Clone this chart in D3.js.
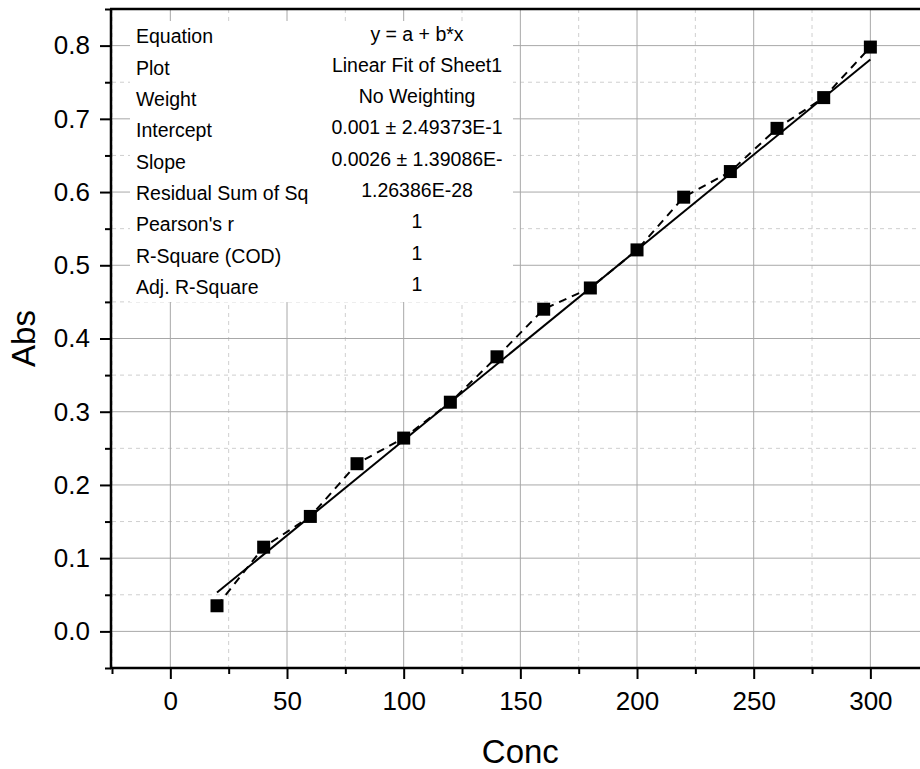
<!DOCTYPE html>
<html>
<head>
<meta charset="utf-8">
<script src="https://cdn.jsdelivr.net/npm/d3@7"></script>
<style>
  html, body { margin: 0; padding: 0; background: #fff; }
  svg { display: block; font-family: "Liberation Sans", Arial, sans-serif; }
</style>
</head>
<body>
<svg id="chart" width="920" height="769"></svg>
<script>
// Calibration data: concentration vs absorbance
const conc = [20, 40, 60, 80, 100, 120, 140, 160, 180, 200, 220, 240, 260, 280, 300];
const abs  = [0.035, 0.115, 0.157, 0.229, 0.264, 0.313, 0.375, 0.440, 0.469, 0.521, 0.593, 0.628, 0.687, 0.729, 0.798];

// Linear fit parameters (y = a + b*x)
const fitIntercept = 0.001;
const fitSlope = 0.0026;

// Axis ticks
const xMajorTicks = [0, 50, 100, 150, 200, 250, 300];
const xMinorTicks = [-25, 25, 75, 125, 175, 225, 275, 325];
const yMajorTicks = [0.0, 0.1, 0.2, 0.3, 0.4, 0.5, 0.6, 0.7, 0.8];
const yMinorTicks = [-0.05, 0.05, 0.15, 0.25, 0.35, 0.45, 0.55, 0.65, 0.75, 0.85];

// Fit report table
const tableLabels = ["Equation", "Plot", "Weight", "Intercept", "Slope",
  "Residual Sum of Sq", "Pearson's r", "R-Square (COD)", "Adj. R-Square"];
const tableValues = ["y = a + b*x", "Linear Fit of Sheet1", "No Weighting",
  "0.001 \u00B1 2.49373E-1", "0.0026 \u00B1 1.39086E-", "1.26386E-28", "1", "1", "1"];

const svg = d3.select("#chart");
const plotLeft = 112, plotRight = 928.7, plotTop = 9, plotBottom = 668;

const x = d3.scaleLinear().domain([-25, 325]).range([plotLeft, plotRight]);
const y = d3.scaleLinear().domain([-0.05, 0.85]).range([plotBottom, plotTop]);

// Grid: dashed minor lines, solid major lines
const grid = svg.append("g");
grid.selectAll(".xminor").data(xMinorTicks).join("line")
  .attr("x1", d => x(d)).attr("x2", d => x(d)).attr("y1", plotTop).attr("y2", plotBottom)
  .attr("stroke", "#cfcfcf").attr("stroke-width", 1).attr("stroke-dasharray", "4,4");
grid.selectAll(".yminor").data(yMinorTicks).join("line")
  .attr("x1", plotLeft).attr("x2", plotRight).attr("y1", d => y(d)).attr("y2", d => y(d))
  .attr("stroke", "#cfcfcf").attr("stroke-width", 1).attr("stroke-dasharray", "4,4");
grid.selectAll(".xmajor").data(xMajorTicks).join("line")
  .attr("x1", d => x(d)).attr("x2", d => x(d)).attr("y1", plotTop).attr("y2", plotBottom)
  .attr("stroke", "#a8a8a8").attr("stroke-width", 1);
grid.selectAll(".ymajor").data(yMajorTicks).join("line")
  .attr("x1", plotLeft).attr("x2", plotRight).attr("y1", d => y(d)).attr("y2", d => y(d))
  .attr("stroke", "#a8a8a8").attr("stroke-width", 1);

// Fit report table with white background
const table = svg.append("g");
table.append("rect").attr("x", 130).attr("y", 21).attr("width", 383).attr("height", 281)
  .attr("fill", "#fff");
const rowH = 31.33;
table.selectAll(".lab").data(tableLabels).join("text")
  .attr("x", 136).attr("y", (d, i) => 43.3 + i * rowH)
  .attr("font-size", 19.5).attr("fill", "#000").text(d => d);
table.selectAll(".val").data(tableValues).join("text")
  .attr("x", 417).attr("y", (d, i) => 40.5 + i * rowH)
  .attr("text-anchor", "middle")
  .attr("font-size", 19.5).attr("fill", "#000").text(d => d);

// Dashed line through the data points
const line = d3.line().x(d => x(d[0])).y(d => y(d[1]));
const pts = conc.map((c, i) => [c, abs[i]]);
svg.append("path").datum(pts).attr("d", line)
  .attr("fill", "none").attr("stroke", "#000").attr("stroke-width", 2)
  .attr("stroke-dasharray", "8,6");

// Linear fit line
const fitPts = [conc[0], conc[conc.length - 1]].map(c => [c, fitIntercept + fitSlope * c]);
svg.append("path").datum(fitPts).attr("d", line)
  .attr("fill", "none").attr("stroke", "#000").attr("stroke-width", 2);

// Square markers
const ms = 13;
svg.selectAll(".pt").data(pts).join("rect")
  .attr("x", d => x(d[0]) - ms / 2).attr("y", d => y(d[1]) - ms / 2)
  .attr("width", ms).attr("height", ms).attr("fill", "#000");

// Axes
function styleAxis(g) {
  g.select(".domain").remove();
  g.selectAll(".tick line").attr("stroke", "#000").attr("stroke-width", 2);
  g.selectAll(".tick text").attr("fill", "#000").attr("font-size", 26)
    .attr("font-family", "Liberation Sans, Arial, sans-serif");
}
svg.append("g").attr("transform", `translate(0,${plotBottom})`)
  .call(d3.axisBottom(x).tickValues(xMinorTicks).tickSize(6).tickFormat(""))
  .call(styleAxis);
svg.append("g").attr("transform", `translate(0,${plotBottom})`)
  .call(d3.axisBottom(x).tickValues(xMajorTicks).tickSize(11).tickPadding(13).tickFormat(d3.format("d")))
  .call(styleAxis);
svg.append("g").attr("transform", `translate(${plotLeft - 1},0)`)
  .call(d3.axisLeft(y).tickValues(yMinorTicks).tickSize(6).tickFormat(""))
  .call(styleAxis);
svg.append("g").attr("transform", `translate(${plotLeft - 1},0)`)
  .call(d3.axisLeft(y).tickValues(yMajorTicks).tickSize(11).tickPadding(10).tickFormat(d3.format(".1f")))
  .call(styleAxis);

// Frame lines: left, bottom, top
svg.append("line").attr("x1", plotLeft - 1).attr("x2", plotLeft - 1).attr("y1", plotTop).attr("y2", plotBottom + 1)
  .attr("stroke", "#000").attr("stroke-width", 2.5);
svg.append("line").attr("x1", plotLeft - 2).attr("x2", 920).attr("y1", plotBottom).attr("y2", plotBottom)
  .attr("stroke", "#000").attr("stroke-width", 2.5);
svg.append("line").attr("x1", plotLeft - 2).attr("x2", 920).attr("y1", plotTop).attr("y2", plotTop)
  .attr("stroke", "#000").attr("stroke-width", 2.5);

// Axis titles
svg.append("text").attr("x", x(150)).attr("y", 763)
  .attr("text-anchor", "middle").attr("font-size", 33).attr("fill", "#000").text("Conc");
svg.append("text").attr("transform", `translate(35,${y(0.4)}) rotate(-90)`)
  .attr("text-anchor", "middle").attr("font-size", 33).attr("fill", "#000").text("Abs");
</script>
</body>
</html>
